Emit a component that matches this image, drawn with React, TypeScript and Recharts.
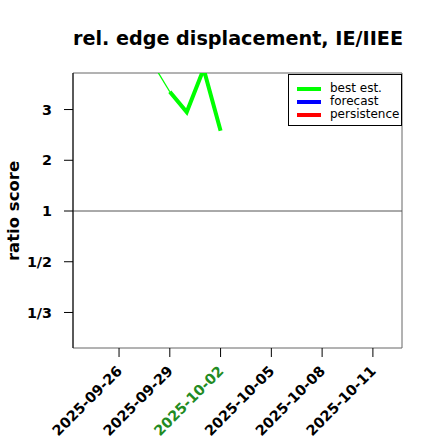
import React from "react";
import { LineChart, Line, XAxis, YAxis, ReferenceLine, ReferenceArea } from "recharts";

// days relative to 2025-09-26
const thinDays = [2, 3];
const thinRatios = [3.9, 3.35];
const thickDays = [3, 4, 5, 6];
const thickRatios = [3.35, 2.95, 3.8, 2.58];

const xTickDays = [0, 3, 6, 9, 12, 15];
const xTickLabels = ["2025-09-26", "2025-09-29", "2025-10-02", "2025-10-05", "2025-10-08", "2025-10-11"];
const highlightLabel = "2025-10-02";

const yTickVals = [2, 1, 0, -1, -2];
const yTickLabels = ["3", "2", "1", "1/2", "1/3"];

const legendNames = ["best est.", "forecast", "persistence"];
const legendColors = ["#00ff00", "#0000ff", "#ff0000"];

const toScore = (r: number) => (r >= 1 ? r - 1 : 1 - 1 / r);

const X_DOMAIN: [number, number] = [-2.72, 16.72];
const Y_DOMAIN: [number, number] = [-2.7, 2.72];

const merged: any[] = [];
const allDays = Array.from(new Set([...thinDays, ...thickDays])).sort((a, b) => a - b);
allDays.forEach((d) => {
  const row: any = { day: d };
  const ti = thinDays.indexOf(d);
  if (ti >= 0) row.thin = toScore(thinRatios[ti]);
  const ki = thickDays.indexOf(d);
  if (ki >= 0) row.thick = toScore(thickRatios[ki]);
  merged.push(row);
});

const font = "'DejaVu Sans', sans-serif";

const XTick = (props: any) => {
  const { x, y, payload } = props;
  const idx = xTickDays.indexOf(payload.value);
  const label = idx >= 0 ? xTickLabels[idx] : "";
  const color = label === highlightLabel ? "#228b22" : "#000";
  return (
    <text
      x={x + 4}
      y={y + 13}
      transform={`rotate(-45, ${x + 4}, ${y + 13})`}
      textAnchor="end"
      fontFamily={font}
      fontWeight="bold"
      fontSize={14.3}
      fill={color}
    >
      {label}
    </text>
  );
};

export default function App() {
  return (
    <div style={{ position: "absolute", left: 0, top: 0, width: 440, height: 440, background: "#fff" }}>
      <svg width={440} height={440} style={{ position: "absolute", left: 0, top: 0 }}>
        <text x={238} y={45} textAnchor="middle" fontFamily={font} fontWeight="bold" fontSize={19.2} fill="#000">
          rel. edge displacement, IE/IIEE
        </text>
        <text
          x={19}
          y={211}
          transform="rotate(-90, 19, 211)"
          textAnchor="middle"
          fontFamily={font}
          fontWeight="bold"
          fontSize={16.5}
          fill="#000"
        >
          ratio score
        </text>
      </svg>
      <div style={{ position: "absolute", left: 0, top: 0 }}>
        <LineChart width={440} height={440} data={merged} margin={{ top: 73, right: 38, bottom: 0, left: 0 }}>
          <ReferenceArea
            x1={X_DOMAIN[0]}
            x2={X_DOMAIN[1]}
            y1={Y_DOMAIN[0]}
            y2={Y_DOMAIN[1]}
            fill="none"
            fillOpacity={0}
            stroke="#666"
            strokeWidth={1}
            ifOverflow="visible"
          />
          <XAxis
            dataKey="day"
            type="number"
            domain={X_DOMAIN}
            ticks={xTickDays}
            allowDataOverflow
            axisLine={false}
            tickLine={{ stroke: "#000" }}
            tickSize={9}
            tick={<XTick />}
            interval={0}
            height={92}
          />
          <YAxis
            type="number"
            domain={Y_DOMAIN}
            ticks={yTickVals}
            allowDataOverflow
            width={73}
            axisLine={{ stroke: "#000" }}
            tickLine={{ stroke: "#000" }}
            tickSize={9}
            tickMargin={12}
            interval={0}
            tick={{ fontFamily: font, fontWeight: "bold", fontSize: 14.3, fill: "#000" }}
            tickFormatter={(v: number) => {
              const i = yTickVals.indexOf(v);
              return i >= 0 ? yTickLabels[i] : "";
            }}
          />
          <ReferenceLine y={0} stroke="#555" strokeWidth={1} />
          <Line
            dataKey="thin"
            stroke="#00ff00"
            strokeWidth={1.3}
            dot={false}
            isAnimationActive={false}
            connectNulls={false}
          />
          <Line
            dataKey="thick"
            stroke="#00ff00"
            strokeWidth={4}
            dot={false}
            isAnimationActive={false}
            connectNulls={false}
            strokeLinejoin="miter"
          />
        </LineChart>
      </div>
      <div
        style={{
          position: "absolute",
          left: 288,
          top: 74,
          width: 114,
          height: 52,
          border: "1px solid #000",
          background: "#fff",
          fontFamily: font,
          fontSize: 12,
          lineHeight: "13px",
          paddingTop: 7,
          boxSizing: "border-box",
        }}
      >
        {legendNames.map((n, i) => (
          <div key={n} style={{ display: "flex", alignItems: "center", height: 13 }}>
            <div style={{ width: 24, height: 4, background: legendColors[i], marginLeft: 8, marginRight: 9 }} />
            <span>{n}</span>
          </div>
        ))}
      </div>
    </div>
  );
}
